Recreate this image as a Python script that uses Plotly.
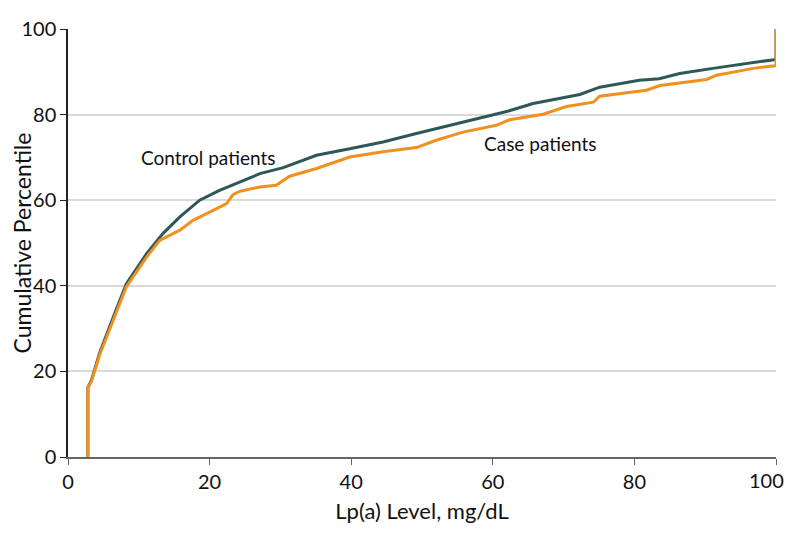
import plotly.graph_objects as go

# Control patients (Lp(a) level, cumulative percentile)
control_x = [2.8, 2.8, 3.3, 4.5, 6.4, 8.25, 11.1, 13.4, 15.8, 18.6, 21.4, 24.3, 25.7, 27.1, 30.4, 35.1,
             39.8, 44.5, 49.2, 53.9, 58.6, 62.1, 65.7, 72.3, 75.1, 80.7, 83.5, 86.4, 91.1, 95.8, 99.8, 100, 100]
control_y = [0, 16.2, 17.9, 24.5, 32.7, 40.5, 47.5, 52.2, 56.1, 60.0, 62.3, 64.3, 65.3, 66.2, 67.6, 70.5,
             72.0, 73.6, 75.6, 77.5, 79.3, 80.8, 82.6, 84.7, 86.4, 88.0, 88.4, 89.6, 90.8, 91.9, 92.8, 92.9, 100]

# Case patients
case_x = [2.8, 2.8, 3.3, 4.5, 6.4, 8.25, 11.1, 12.95, 15.8, 17.65, 20.5, 22.4, 23.3, 24.3, 27.1, 29.4,
          31.3, 35.1, 39.8, 44.5, 49.2, 52.0, 55.8, 60.5, 62.4, 67.1, 70.4, 74.2, 75.1, 81.7, 83.6,
          90.2, 91.6, 96.8, 99.8, 100, 100]
case_y = [0, 16.2, 17.6, 24.0, 32.0, 39.8, 46.7, 50.6, 53.0, 55.3, 57.6, 59.2, 61.3, 62.1, 63.1, 63.5,
          65.6, 67.4, 70.1, 71.3, 72.3, 74.0, 75.9, 77.5, 78.8, 80.1, 81.9, 82.9, 84.3, 85.7, 86.8,
          88.2, 89.2, 90.8, 91.4, 91.5, 100]

x_ticks = [0, 20, 40, 60, 80, 100]
x_labels = ["0", "20", "40", "60", "80", "100"]
y_ticks = [0, 20, 40, 60, 80, 100]

FONT = "Lato"

fig = go.Figure()
fig.add_trace(go.Scatter(x=control_x, y=control_y, mode="lines", name="Control patients",
                         line=dict(color="#2c5857", width=3), showlegend=False))
fig.add_trace(go.Scatter(x=case_x, y=case_y, mode="lines", name="Case patients",
                         line=dict(color="#f0901f", width=3), showlegend=False))

fig.add_annotation(x=10.0, y=70, text="Control patients", showarrow=False, xanchor="left",
                   yanchor="middle", font=dict(family=FONT, size=19, color="#111"))
fig.add_annotation(x=58.5, y=73.3, text="Case patients", showarrow=False, xanchor="left",
                   yanchor="middle", font=dict(family=FONT, size=19, color="#111"))

# last x tick label drawn as text so it stays inside the page edge
fig.add_annotation(x=x_ticks[-1], y=0, xref="x", yref="paper", text=x_labels[-1], showarrow=False,
                   xanchor="right", yanchor="top", xshift=10, yshift=-9,
                   font=dict(family=FONT, size=20, color="#111"))

fig.update_layout(
    width=786, height=518,
    margin=dict(l=60, r=18, t=21, b=69, autoexpand=False),
    plot_bgcolor="white", paper_bgcolor="white",
    font=dict(family=FONT, size=18, color="#111"),
    xaxis=dict(range=[0, 100], tickvals=x_ticks, ticktext=x_labels[:-1] + [""], showgrid=False,
               zeroline=False, automargin=False,
               showline=True, linecolor="#666", linewidth=1.5, ticks="outside", ticklen=6,
               tickcolor="#666", title=dict(text="Lp(a) Level, mg/dL", standoff=12),
               tickfont=dict(size=20)),
    yaxis=dict(range=[0, 100], tickvals=y_ticks, showgrid=True, gridcolor="#d9d9d9", gridwidth=1.5,
               zeroline=False, automargin=False, showline=True, linecolor="#222", linewidth=1.5,
               ticks="outside", ticklen=6, tickcolor="#222",
               title=dict(text="Cumulative Percentile", standoff=16, font=dict(family=FONT, size=23)),
               tickfont=dict(size=20)),
)

fig.write_html("out.html")
